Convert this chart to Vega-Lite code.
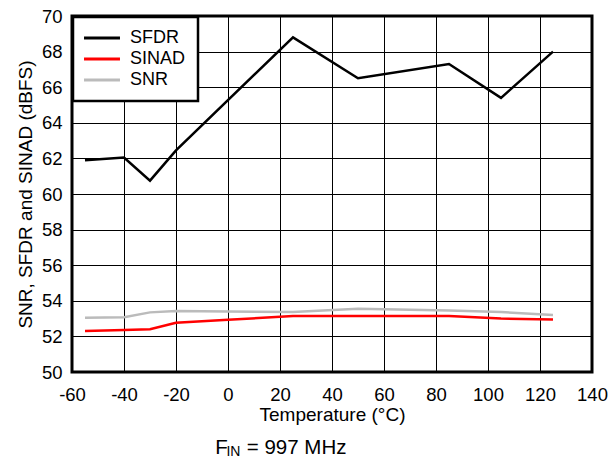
{
  "$schema": "https://vega.github.io/schema/vega-lite/v6.json",
  "width": 520,
  "height": 356,
  "autosize": "none",
  "padding": {"left": 72, "top": 16, "right": 19, "bottom": 87},
  "background": "white",
  "config": {
    "font": "Liberation Sans",
    "view": {"stroke": "black", "strokeWidth": 3},
    "axis": {
      "grid": true,
      "gridColor": "black",
      "gridWidth": 1,
      "gridOpacity": 1,
      "domain": false,
      "ticks": false,
      "tickSize": 0,
      "labelOverlap": false,
      "labelFlush": false,
      "labelFont": "Liberation Sans",
      "labelFontSize": 18.5,
      "labelColor": "black",
      "labelExpr": "'' + datum.value",
      "titleFont": "Liberation Sans",
      "titleFontSize": 19,
      "titleFontWeight": "normal",
      "titleColor": "black"
    },
    "legend": {
      "labelFont": "Liberation Sans",
      "labelFontSize": 18,
      "labelColor": "black",
      "strokeWidth": 2.5
    }
  },
  "layer": [
    {
      "data": {
        "values": [
          {"temp": -55, "metric": "SFDR", "value": 61.9},
          {"temp": -40, "metric": "SFDR", "value": 62.05},
          {"temp": -30, "metric": "SFDR", "value": 60.75},
          {"temp": -20, "metric": "SFDR", "value": 62.45},
          {"temp": 25, "metric": "SFDR", "value": 68.8},
          {"temp": 50, "metric": "SFDR", "value": 66.5},
          {"temp": 85, "metric": "SFDR", "value": 67.3},
          {"temp": 105, "metric": "SFDR", "value": 65.4},
          {"temp": 125, "metric": "SFDR", "value": 68.0},
          {"temp": -55, "metric": "SINAD", "value": 52.3},
          {"temp": -40, "metric": "SINAD", "value": 52.36},
          {"temp": -30, "metric": "SINAD", "value": 52.4},
          {"temp": -20, "metric": "SINAD", "value": 52.77},
          {"temp": 0, "metric": "SINAD", "value": 52.93},
          {"temp": 25, "metric": "SINAD", "value": 53.15},
          {"temp": 50, "metric": "SINAD", "value": 53.15},
          {"temp": 85, "metric": "SINAD", "value": 53.15},
          {"temp": 105, "metric": "SINAD", "value": 53.0},
          {"temp": 125, "metric": "SINAD", "value": 52.95},
          {"temp": -55, "metric": "SNR", "value": 53.05},
          {"temp": -40, "metric": "SNR", "value": 53.08},
          {"temp": -30, "metric": "SNR", "value": 53.35},
          {"temp": -20, "metric": "SNR", "value": 53.43},
          {"temp": 0, "metric": "SNR", "value": 53.4},
          {"temp": 25, "metric": "SNR", "value": 53.37},
          {"temp": 50, "metric": "SNR", "value": 53.56},
          {"temp": 85, "metric": "SNR", "value": 53.45},
          {"temp": 105, "metric": "SNR", "value": 53.37},
          {"temp": 125, "metric": "SNR", "value": 53.2}
        ]
      },
      "mark": {"type": "line", "strokeWidth": 2.5},
      "encoding": {
        "x": {
          "field": "temp",
          "type": "quantitative",
          "scale": {"domain": [-60, 140], "nice": false, "zero": false},
          "axis": {
            "title": "Temperature (°C)",
            "values": [-60, -40, -20, 0, 20, 40, 60, 80, 100, 120, 140],
            "labelOverlap": false,
            "labelFlush": false,
            "labelPadding": 13,
            "titlePadding": 1.5
          }
        },
        "y": {
          "field": "value",
          "type": "quantitative",
          "scale": {"domain": [50, 70], "nice": false, "zero": false},
          "axis": {
            "title": "SNR, SFDR and SINAD (dBFS)",
            "values": [50, 52, 54, 56, 58, 60, 62, 64, 66, 68, 70],
            "labelOverlap": false,
            "labelFlush": false,
            "labelPadding": 10,
            "titlePadding": 5.5
          }
        },
        "color": {
          "field": "metric",
          "type": "nominal",
          "scale": {"domain": ["SFDR", "SINAD", "SNR"], "range": ["#000000", "#ff0000", "#bbbbbb"]},
          "legend": {
            "title": null,
            "orient": "top-left",
            "offset": 1,
            "padding": 12,
            "fillColor": "white",
            "strokeColor": "black",
            "symbolType": "M-2.5,0H2.5",
            "symbolSize": 207,
            "symbolStrokeWidth": 3,
            "symbolOffset": 8,
            "labelOffset": 19,
            "rowPadding": 3
          }
        }
      }
    },
    {
      "data": {"values": [{}]},
      "mark": {"type": "text", "text": "F", "align": "left", "baseline": "alphabetic", "fontSize": 20.5, "font": "Liberation Sans", "color": "black"},
      "encoding": {
        "x": {"datum": -4.88, "type": "quantitative", "axis": {"title": "Temperature (°C)", "values": [-60, -40, -20, 0, 20, 40, 60, 80, 100, 120, 140], "labelOverlap": false, "labelFlush": false, "labelPadding": 13, "titlePadding": 1.5}},
        "y": {"datum": 45.37, "type": "quantitative", "axis": {"title": "SNR, SFDR and SINAD (dBFS)", "values": [50, 52, 54, 56, 58, 60, 62, 64, 66, 68, 70], "labelOverlap": false, "labelFlush": false, "labelPadding": 10, "titlePadding": 5.5}}
      }
    },
    {
      "data": {"values": [{}]},
      "mark": {"type": "text", "text": "IN", "align": "left", "baseline": "alphabetic", "fontSize": 14, "font": "Liberation Sans", "color": "black"},
      "encoding": {
        "x": {"datum": -0.62, "type": "quantitative", "axis": {"title": "Temperature (°C)", "values": [-60, -40, -20, 0, 20, 40, 60, 80, 100, 120, 140], "labelOverlap": false, "labelFlush": false, "labelPadding": 13, "titlePadding": 1.5}},
        "y": {"datum": 45.28, "type": "quantitative", "axis": {"title": "SNR, SFDR and SINAD (dBFS)", "values": [50, 52, 54, 56, 58, 60, 62, 64, 66, 68, 70], "labelOverlap": false, "labelFlush": false, "labelPadding": 10, "titlePadding": 5.5}}
      }
    },
    {
      "data": {"values": [{}]},
      "mark": {"type": "text", "text": "= 997 MHz", "align": "left", "baseline": "alphabetic", "fontSize": 20.5, "font": "Liberation Sans", "color": "black"},
      "encoding": {
        "x": {"datum": 7.23, "type": "quantitative", "axis": {"title": "Temperature (°C)", "values": [-60, -40, -20, 0, 20, 40, 60, 80, 100, 120, 140], "labelOverlap": false, "labelFlush": false, "labelPadding": 13, "titlePadding": 1.5}},
        "y": {"datum": 45.37, "type": "quantitative", "axis": {"title": "SNR, SFDR and SINAD (dBFS)", "values": [50, 52, 54, 56, 58, 60, 62, 64, 66, 68, 70], "labelOverlap": false, "labelFlush": false, "labelPadding": 10, "titlePadding": 5.5}}
      }
    }
  ]
}
